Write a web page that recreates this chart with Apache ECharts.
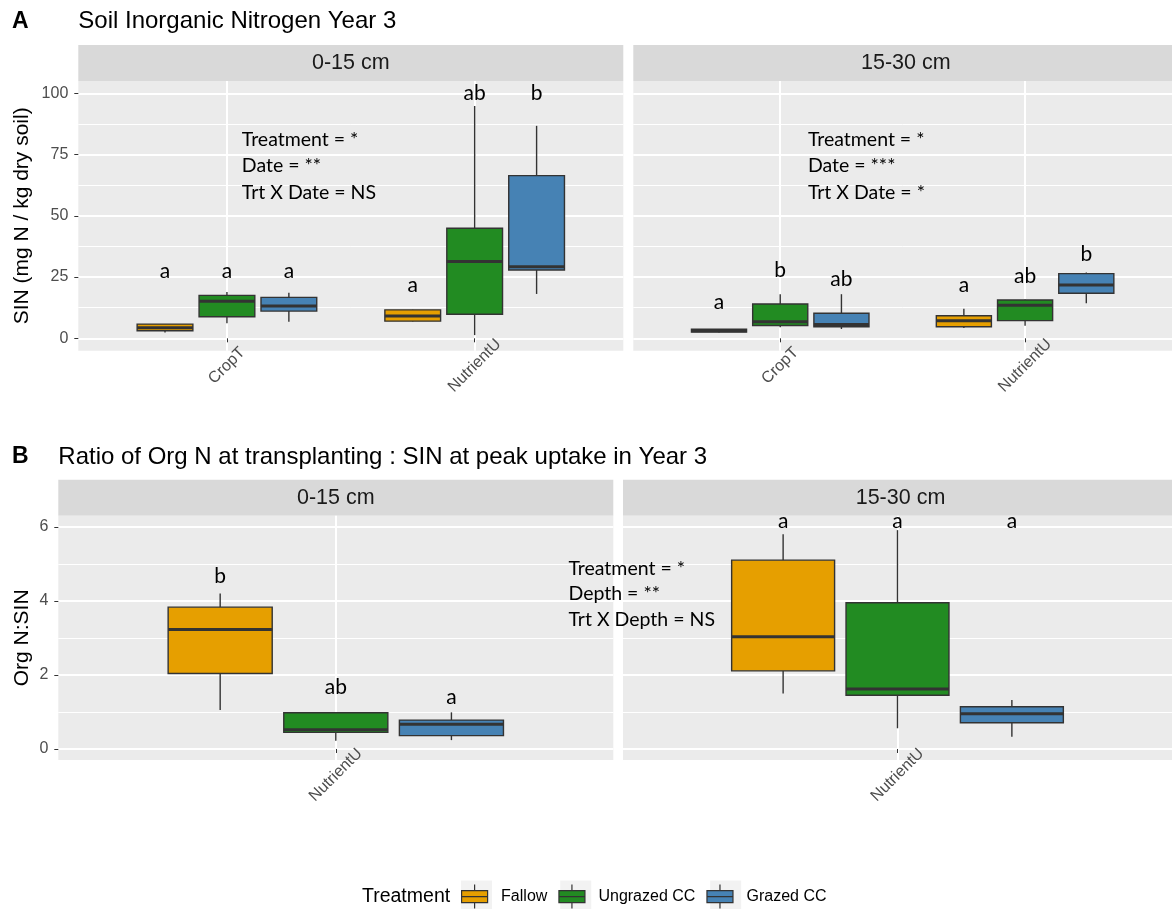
<!DOCTYPE html>
<html>
<head>
<meta charset="utf-8">
<script src="https://cdn.jsdelivr.net/npm/echarts@6/dist/echarts.min.js"></script>
<style>
  html, body { margin: 0; padding: 0; background: #ffffff; }
  #chart { width: 1172px; height: 909px; }
</style>
</head>
<body>
<div id="chart"></div>
<script>
// ---- categories ----
const treatments = ['Fallow', 'Ungrazed CC', 'Grazed CC'];
const treatmentColors = ['#E69F00', '#228B22', '#4682B4'];
const depths = ['0-15 cm', '15-30 cm'];
const sinSites = ['CropT', 'NutrientU'];
const ratioSites = ['NutrientU'];

// ---- tick labels ----
const sinTicks = [0, 25, 50, 75, 100];
const sinMinorTicks = [12.5, 37.5, 62.5, 87.5];
const ratioTicks = [0, 2, 4, 6];
const ratioMinorTicks = [1, 3, 5];

// ---- Panel A: soil inorganic N, box stats [min, q1, median, q3, max] per site ----
const sinShallowFallow   = [[2.4, 3.1, 4.3, 5.8, 5.8],    [6.8, 7.0, 9.1, 11.6, 11.8]];
const sinShallowUngrazed = [[6.1, 8.8, 15.1, 17.5, 18.9], [1.3, 9.8, 31.3, 44.9, 94.8]];
const sinShallowGrazed   = [[6.8, 11.1, 13.2, 16.7, 18.6], [18.1, 27.9, 29.2, 66.4, 86.7]];
const sinDeepFallow      = [[2.4, 2.6, 3.1, 3.7, 3.8],    [4.2, 4.7, 7.2, 9.2, 12.1]];
const sinDeepUngrazed    = [[4.5, 5.2, 6.8, 14.0, 18.0],  [5.1, 7.2, 13.5, 15.6, 15.8]];
const sinDeepGrazed      = [[3.8, 4.7, 5.6, 10.2, 18.0],  [14.3, 18.4, 21.8, 26.4, 26.9]];

// ---- Panel B: Org N : SIN ratio, box stats [min, q1, median, q3, max] ----
const ratioShallowFallow   = [[1.05, 2.04, 3.23, 3.83, 4.20]];
const ratioShallowUngrazed = [[0.22, 0.45, 0.52, 0.98, 0.99]];
const ratioShallowGrazed   = [[0.24, 0.36, 0.67, 0.78, 0.99]];
const ratioDeepFallow      = [[1.50, 2.11, 3.03, 5.10, 5.80]];
const ratioDeepUngrazed    = [[0.56, 1.45, 1.62, 3.95, 5.91]];
const ratioDeepGrazed      = [[0.33, 0.71, 0.95, 1.14, 1.32]];

// ---- significance letters [site][treatment] and their heights ----
const sinShallowLetters = [['a', 'a', 'a'], ['a', 'ab', 'b']];
const sinShallowLetterY = [[27.5, 27.5, 27.5], [21.5, 100, 100]];
const sinDeepLetters = [['a', 'b', 'ab'], ['a', 'ab', 'b']];
const sinDeepLetterY = [[14.9, 27.9, 24.1], [21.8, 25.4, 34.4]];
const ratioShallowLetters = [['b', 'ab', 'a']];
const ratioShallowLetterY = [[4.67, 1.68, 1.41]];
const ratioDeepLetters = [['a', 'a', 'a']];
const ratioDeepLetterY = [[6.15, 6.15, 6.15]];

// ---- ANOVA notes ----
const sinShallowNotes = ['Treatment = *', 'Date = **', 'Trt X Date = NS'];
const sinDeepNotes = ['Treatment = *', 'Date = ***', 'Trt X Date = *'];
const ratioNotes = ['Treatment = *', 'Depth = **', 'Trt X Depth = NS'];

// ---- layout ----
const PANELS = [
  { left: 78.3,  top: 81,    width: 545, height: 269.7 },
  { left: 633.3, top: 81,    width: 545, height: 269.7 },
  { left: 58.3,  top: 515.7, width: 555, height: 244.3 },
  { left: 623,   top: 515.7, width: 555, height: 244.3 }
];
const STRIP_H = 36;
const DODGE = 0.25;        // treatment offset within a site
const BOX_WIDTH = 0.225;   // box width in site units
const SIN_RANGE = [-5.06, 105.0];
const RATIO_RANGE = [-0.297, 6.30];
const SANS = '"Liberation Sans", Arial, sans-serif';
const NOTE_FONT = 'Lato, "Open Sans", sans-serif';

// legend geometry
const LEGEND_LEFT = 461, LEGEND_TOP = 884;
const KEY_W = 31, KEY_H = 24, KEY_GAP = 11, KEY_TEXT_PAD = 6, LEGEND_FONT = 16;

const panelDefs = [
  { grid: 0, sites: sinSites, range: SIN_RANGE, ticks: sinTicks, minor: sinMinorTicks, showY: true,
    boxes: [sinShallowFallow, sinShallowUngrazed, sinShallowGrazed],
    letters: sinShallowLetters, letterY: sinShallowLetterY,
    notes: sinShallowNotes, noteAt: [1.06, 81.2], noteStep: 10.8 },
  { grid: 1, sites: sinSites, range: SIN_RANGE, ticks: sinTicks, minor: sinMinorTicks, showY: false,
    boxes: [sinDeepFallow, sinDeepUngrazed, sinDeepGrazed],
    letters: sinDeepLetters, letterY: sinDeepLetterY,
    notes: sinDeepNotes, noteAt: [1.113, 81.2], noteStep: 10.8 },
  { grid: 2, sites: ratioSites, range: RATIO_RANGE, ticks: ratioTicks, minor: ratioMinorTicks, showY: true,
    boxes: [ratioShallowFallow, ratioShallowUngrazed, ratioShallowGrazed],
    letters: ratioShallowLetters, letterY: ratioShallowLetterY,
    notes: ratioNotes, noteAt: [1.503, 4.88], noteStep: 0.70 },
  { grid: 3, sites: ratioSites, range: RATIO_RANGE, ticks: ratioTicks, minor: ratioMinorTicks, showY: false,
    boxes: [ratioDeepFallow, ratioDeepUngrazed, ratioDeepGrazed],
    letters: ratioDeepLetters, letterY: ratioDeepLetterY,
    notes: null }
];

function sitePos(siteIdx, trtIdx) {
  return siteIdx + 1 + (trtIdx - 1) * DODGE;
}

function renderBox(params, api) {
  const x = api.value(0);
  const pLo = api.coord([x, api.value(1)]);
  const pQ1 = api.coord([x, api.value(2)]);
  const pMed = api.coord([x, api.value(3)]);
  const pQ3 = api.coord([x, api.value(4)]);
  const pHi = api.coord([x, api.value(5)]);
  const w = api.size([BOX_WIDTH, 0])[0];
  const cx = pMed[0];
  const edge = { stroke: '#333333', lineWidth: 1.4 };
  return {
    type: 'group',
    children: [
      { type: 'line', shape: { x1: cx, y1: pHi[1], x2: cx, y2: pQ3[1] }, style: edge },
      { type: 'line', shape: { x1: cx, y1: pQ1[1], x2: cx, y2: pLo[1] }, style: edge },
      { type: 'rect', shape: { x: cx - w / 2, y: pQ3[1], width: w, height: pQ1[1] - pQ3[1] },
        style: { fill: api.visual('color'), stroke: '#333333', lineWidth: 1.4 } },
      { type: 'line', shape: { x1: cx - w / 2, y1: pMed[1], x2: cx + w / 2, y2: pMed[1] },
        style: { stroke: '#333333', lineWidth: 3 } }
    ]
  };
}

const grids = [], xAxes = [], yAxes = [], series = [], graphics = [];

panelDefs.forEach(function (p, pi) {
  const box = PANELS[p.grid];
  grids.push({ left: box.left, top: box.top, width: box.width, height: box.height,
    show: true, backgroundColor: '#EBEBEB', borderWidth: 0 });

  const xIdx = xAxes.length;
  const siteVals = p.sites.map(function (s, i) { return i + 1; });
  xAxes.push({
    type: 'value', gridIndex: p.grid, min: 0.4, max: p.sites.length + 0.6,
    axisLine: { show: false },
    axisTick: { show: true, length: 4, customValues: siteVals, lineStyle: { color: '#333333', width: 1 } },
    axisLabel: { show: true, customValues: siteVals, rotate: 45, margin: 15,
      align: 'center', verticalAlign: 'middle',
      color: '#4D4D4D', fontFamily: SANS, fontSize: 16,
      formatter: function (v) { return p.sites[Math.round(v) - 1] || ''; } },
    splitLine: { show: true, lineStyle: { color: '#FFFFFF', width: 2 } }
  });

  const yIdx = yAxes.length;
  yAxes.push({
    type: 'value', gridIndex: p.grid, min: p.range[0], max: p.range[1], position: 'left',
    axisLine: { show: false },
    axisTick: { show: p.showY, length: 4, customValues: p.ticks, lineStyle: { color: '#333333', width: 1 } },
    axisLabel: { show: p.showY, customValues: p.ticks, margin: 10, color: '#4D4D4D',
      fontFamily: SANS, fontSize: 16 },
    splitLine: { show: true, lineStyle: { color: '#FFFFFF', width: 2 } },
    name: p.showY ? (p.grid === 0 ? 'SIN (mg N / kg dry soil)' : 'Org N:SIN') : '',
    nameLocation: 'middle', nameRotate: 90, nameGap: p.grid === 0 ? 46 : 26,
    nameTextStyle: { color: '#000000', fontFamily: SANS, fontSize: 21 }
  });
  // minor grid lines
  yAxes.push({
    type: 'value', gridIndex: p.grid, min: p.range[0], max: p.range[1], position: 'right',
    axisLine: { show: false },
    axisTick: { show: false, customValues: p.minor },
    axisLabel: { show: false },
    splitLine: { show: true, lineStyle: { color: '#FFFFFF', width: 1 } }
  });

  // boxes, one series per treatment
  treatments.forEach(function (t, ti) {
    const stats = p.boxes[ti];
    series.push({
      type: 'custom', name: t, xAxisIndex: xIdx, yAxisIndex: yIdx,
      itemStyle: { color: treatmentColors[ti] },
      encode: { x: 0, y: [1, 2, 3, 4, 5] },
      renderItem: renderBox,
      data: stats.map(function (s, si) { return [sitePos(si, ti)].concat(s); }),
      z: 3
    });
  });

  // significance letters
  const letterData = [], letterText = [];
  p.letters.forEach(function (row, si) {
    row.forEach(function (lt, ti) {
      letterData.push([sitePos(si, ti), p.letterY[si][ti]]);
      letterText.push(lt);
    });
  });
  series.push({
    type: 'custom', name: 'letters-' + pi, xAxisIndex: xIdx, yAxisIndex: yIdx,
    encode: { x: 0, y: 1 }, clip: false, z: 4,
    data: letterData,
    renderItem: function (params, api) {
      const pt = api.coord([api.value(0), api.value(1)]);
      return { type: 'text', x: pt[0], y: pt[1],
        style: { text: letterText[params.dataIndex], fill: '#000000', fontFamily: NOTE_FONT,
          fontSize: 21, align: 'center', verticalAlign: 'middle' } };
    }
  });

  // ANOVA notes
  if (p.notes) {
    const noteData = p.notes.map(function (n, i) { return [p.noteAt[0], p.noteAt[1] - i * p.noteStep]; });
    series.push({
      type: 'custom', name: 'notes-' + pi, xAxisIndex: xIdx, yAxisIndex: yIdx,
      encode: { x: 0, y: 1 }, clip: false, z: 4,
      data: noteData,
      renderItem: function (params, api) {
        const pt = api.coord([api.value(0), api.value(1)]);
        return { type: 'text', x: pt[0], y: pt[1],
          style: { text: p.notes[params.dataIndex], fill: '#000000', fontFamily: NOTE_FONT,
            fontSize: 19.5, align: 'left', verticalAlign: 'middle' } };
      }
    });
  }

  // facet strip
  graphics.push({ type: 'rect', left: box.left, top: box.top - STRIP_H,
    shape: { width: box.width, height: STRIP_H }, style: { fill: '#D9D9D9' }, z: -1 });
  graphics.push({ type: 'text', x: box.left + box.width / 2, y: box.top - STRIP_H / 2,
    style: { text: depths[p.grid % 2], fill: '#1A1A1A', fontFamily: SANS, fontSize: 21.5,
      align: 'center', verticalAlign: 'middle' } });
});

// figure titles
graphics.push(
  { type: 'text', x: 12, y: 21.5, style: { text: 'A', fill: '#000', fontFamily: SANS, fontWeight: 'bold',
    fontSize: 23, verticalAlign: 'middle' } },
  { type: 'text', x: PANELS[0].left, y: 21.5, style: { text: 'Soil Inorganic Nitrogen Year 3', fill: '#000',
    fontFamily: SANS, fontSize: 24, verticalAlign: 'middle' } },
  { type: 'text', x: 12, y: 457, style: { text: 'B', fill: '#000', fontFamily: SANS, fontWeight: 'bold',
    fontSize: 23, verticalAlign: 'middle' } },
  { type: 'text', x: PANELS[2].left, y: 457, style: { text: 'Ratio of Org N at transplanting : SIN at peak uptake in Year 3',
    fill: '#000', fontFamily: SANS, fontSize: 24, verticalAlign: 'middle' } },
  { type: 'text', x: 362, y: 897, style: { text: 'Treatment', fill: '#000', fontFamily: SANS,
    fontSize: 19.5, verticalAlign: 'middle' } }
);

// light key backgrounds behind each legend glyph, following the legend's own item spacing
(function () {
  const ctx = document.createElement('canvas').getContext('2d');
  ctx.font = LEGEND_FONT + 'px "Liberation Sans", Arial, sans-serif';
  let x = LEGEND_LEFT;
  treatments.forEach(function (t) {
    graphics.push({ type: 'rect', left: x, top: LEGEND_TOP + KEY_H / 2 - 15.5, z: 0,
      shape: { width: KEY_W, height: 31 }, style: { fill: '#F2F2F2' } });
    x += KEY_W + 5 + KEY_TEXT_PAD + ctx.measureText(t).width + KEY_GAP;
  });
})();

// legend glyph: whiskers plus a box split by the median
const keyIcon = 'path://M13,0 L13,6 M0,6 L26,6 L26,12 L0,12 Z M0,12 L26,12 L26,18 L0,18 Z M13,18 L13,24';

const chart = echarts.init(document.getElementById('chart'), null, { renderer: 'canvas' });
chart.setOption({
  animation: false,
  backgroundColor: '#FFFFFF',
  grid: grids,
  xAxis: xAxes,
  yAxis: yAxes,
  legend: {
    data: treatments.map(function (t) { return { name: t, icon: keyIcon }; }),
    left: LEGEND_LEFT, top: LEGEND_TOP, padding: 0, z: 5,
    itemWidth: KEY_W, itemHeight: KEY_H, itemGap: KEY_GAP,
    itemStyle: { borderColor: '#333333', borderWidth: 1.2 },
    textStyle: { color: '#000000', fontFamily: SANS, fontSize: LEGEND_FONT, padding: [0, 0, 0, KEY_TEXT_PAD] },
    selectedMode: false
  },
  graphic: graphics,
  series: series
});
</script>
</body>
</html>
